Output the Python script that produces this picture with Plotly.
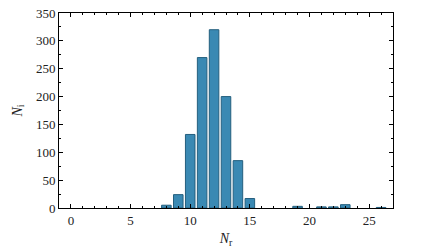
import plotly.graph_objects as go

nr = [8, 9, 10, 11, 12, 13, 14, 15, 19, 21, 22, 23, 26]
counts = [5, 24, 132, 270, 320, 200, 85, 17, 3, 2, 2, 6, 1]
x_ticks = [0, 5, 10, 15, 20, 25]
y_ticks = [0, 50, 100, 150, 200, 250, 300, 350]

font = "Liberation Serif"

fig = go.Figure(go.Bar(
    x=nr, y=counts, width=0.8,
    marker=dict(color="#3A89B3", line=dict(color="#245F7E", width=1)),
))

axis_common = dict(
    showline=True, linecolor="black", linewidth=1, mirror="ticks",
    ticks="inside", ticklen=4, tickcolor="black", showgrid=False, zeroline=False,
    automargin=False, ticklabeloverflow="allow",
    tickfont=dict(family=font, size=13, color="#222"),
)
fig.update_xaxes(
    range=[-1, 27], tickvals=x_ticks,
    minor=dict(dtick=1, ticks="inside", ticklen=2, tickcolor="black"),
    title=dict(text="<i>N</i><sub>r</sub>", font=dict(family=font, size=14, color="#222"), standoff=7),
    **axis_common,
)
fig.update_yaxes(
    range=[0, 350], tickvals=y_ticks,
    minor=dict(dtick=25, ticks="inside", ticklen=2, tickcolor="black"),
    title=dict(text="<i>N</i><sub>i</sub>", font=dict(family=font, size=14, color="#222"), standoff=10),
    **axis_common,
)
fig.update_layout(
    width=422, height=248,
    margin=dict(l=59, r=29, t=13, b=40),
    plot_bgcolor="white", paper_bgcolor="white",
    font=dict(family=font),
    showlegend=False, bargap=0.2,
)
fig.write_html("out.html", config={"displayModeBar": False},
               post_script="document.body.style.margin='0';")
